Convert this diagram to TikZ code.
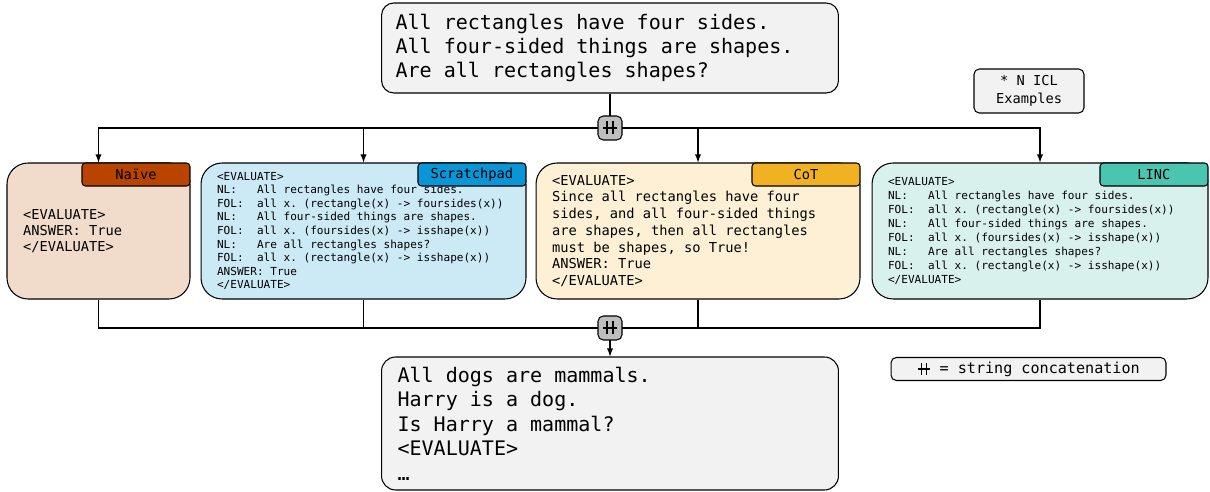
\documentclass[tikz,border=0pt]{standalone}
\usepackage{fontspec}
\setmonofont{DejaVu Sans Mono}
\usetikzlibrary{arrows,positioning}

\definecolor{promptfill}{HTML}{F2F2F2}
\definecolor{catfill}{HTML}{BEBEBE}
\definecolor{naivefill}{HTML}{F1DBCB}
\definecolor{naivetag}{HTML}{B84400}
\definecolor{scratchfill}{HTML}{CCE9F6}
\definecolor{scratchtag}{HTML}{0A96D6}
\definecolor{cotfill}{HTML}{FDF0D5}
\definecolor{cottag}{HTML}{F0B223}
\definecolor{lincfill}{HTML}{D8F1EC}
\definecolor{linctag}{HTML}{4AC5B0}

% full-width spaces for the mono font
\newcommand{\monosp}{\fontdimen2\font=0.602em\fontdimen3\font=0pt\fontdimen4\font=0pt\fontdimen7\font=0pt}
\newcommand{\codefont}[2]{\fontsize{#1}{#2}\selectfont\ttfamily\monosp}
\newcommand{\concatsym}[1][1]{\tikz[baseline=-0.5ex, scale=#1, line width=0.8pt, x=0.02cm, y=0.02cm]{\draw (-3,-6.5) -- (-3,6.5) (3,-6.5) -- (3,6.5) (-7,0) -- (7,0);}}

\tikzset{
  codetext/.style={align=left, execute at begin node={\spaceskip=0pt\xspaceskip=0pt\relax}},
  prompt/.style={draw, fill=promptfill, rounded corners=7pt, codetext, font=\codefont{11.4}{13.8}},
  method/.style={draw, rounded corners=12pt, codetext, minimum height=2.72cm, inner xsep=0.32cm},
  tag/.style={draw, rounded corners=2pt, minimum width=2.16cm, minimum height=0.46cm, inner sep=0pt, anchor=north east, font=\codefont{7.8}{9}},
  concat/.style={draw, fill=catfill, rounded corners=3pt, minimum size=0.48cm, inner sep=0pt},
  note/.style={draw, fill=promptfill, rounded corners=3pt, align=center, inner sep=0pt},
  smalltt/.style={font=\codefont{6.3}{7.7}},
  midtt/.style={font=\codefont{7.8}{9.3}},
}

\begin{document}
\frenchspacing
\begin{tikzpicture}[x=0.02cm, y=-0.02cm, >=latex, line width=0.6pt]
\useasboundingbox (0,0) rectangle (1210,492);
%\draw[help lines] (0,0) grid[step=50] (1210,492);
\node[prompt, minimum width=9.14cm, minimum height=1.8cm, text width=8.58cm, inner xsep=0.28cm] (question) at (610,48) {All rectangles have four sides.\\All four-sided things are shapes.\\Are all rectangles shapes?};
\node[note, minimum width=2.2cm, minimum height=0.88cm, font=\codefont{7.8}{10}] (icl) at (1029,91) {* N ICL\\Examples};
\node[concat] (join1) at (610,128) {\concatsym};

\node[method, fill=naivefill, midtt, text width=3.02cm] (naive) at (98.5,231) {<EVALUATE>\\ANSWER: True\\</EVALUATE>};
\node[tag, fill=naivetag] (naivelabel) at (naive.north east) {Naïve};
\node[method, fill=scratchfill, smalltt, text width=5.86cm] (scratch) at (363.5,231) {<EVALUATE>\\NL:~~~All rectangles have four sides.\\FOL:~~all x. (rectangle(x) -> foursides(x))\\NL:~~~All four-sided things are shapes.\\FOL:~~all x. (foursides(x) -> isshape(x))\\NL:~~~Are all rectangles shapes?\\FOL:~~all x. (rectangle(x) -> isshape(x))\\ANSWER: True\\</EVALUATE>};
\node[tag, fill=scratchtag] (scratchlabel) at (scratch.north east) {Scratchpad};
\node[method, fill=cotfill, text width=5.84cm, font=\codefont{7.8}{9.5}] (cot) at (698,231) {<EVALUATE>\\Since all rectangles have four\\sides, and all four-sided things\\are shapes, then all rectangles\\must be shapes, so True!\\ANSWER: True\\</EVALUATE>};
\node[tag, fill=cottag] (cotlabel) at (cot.north east) {CoT};
\node[method, fill=lincfill, text width=6.08cm, font=\codefont{6.3}{7.9}] (linc) at (1040,231) {<EVALUATE>\\NL:~~~All rectangles have four sides.\\FOL:~~all x. (rectangle(x) -> foursides(x))\\NL:~~~All four-sided things are shapes.\\FOL:~~all x. (foursides(x) -> isshape(x))\\NL:~~~Are all rectangles shapes?\\FOL:~~all x. (rectangle(x) -> isshape(x))\\</EVALUATE>};
\node[tag, fill=linctag] (linclabel) at (linc.north east) {LINC};

\node[concat] (join2) at (610,328) {\concatsym};
\node[prompt, minimum width=9.14cm, minimum height=2.66cm, text width=8.5cm, inner xsep=0.32cm, rounded corners=8pt, font=\codefont{11.4}{13.9}] (query) at (610,423.5) {All dogs are mammals.\\Harry is a dog.\\Is Harry a mammal?\\<EVALUATE>\\…};
\node[note, minimum width=5.5cm, minimum height=0.46cm, font=\codefont{8.6}{10}] (legend) at (1028.5,369) {\concatsym[0.85] = string concatenation};

\draw (question) -- (join1);
\foreach \m in {naive,scratch,cot,linc} {
  \draw[->] (join1) -| (\m);
  \draw (\m) |- (join2);
}
\draw[->] (join2) -- (query);
\end{tikzpicture}
\end{document}
